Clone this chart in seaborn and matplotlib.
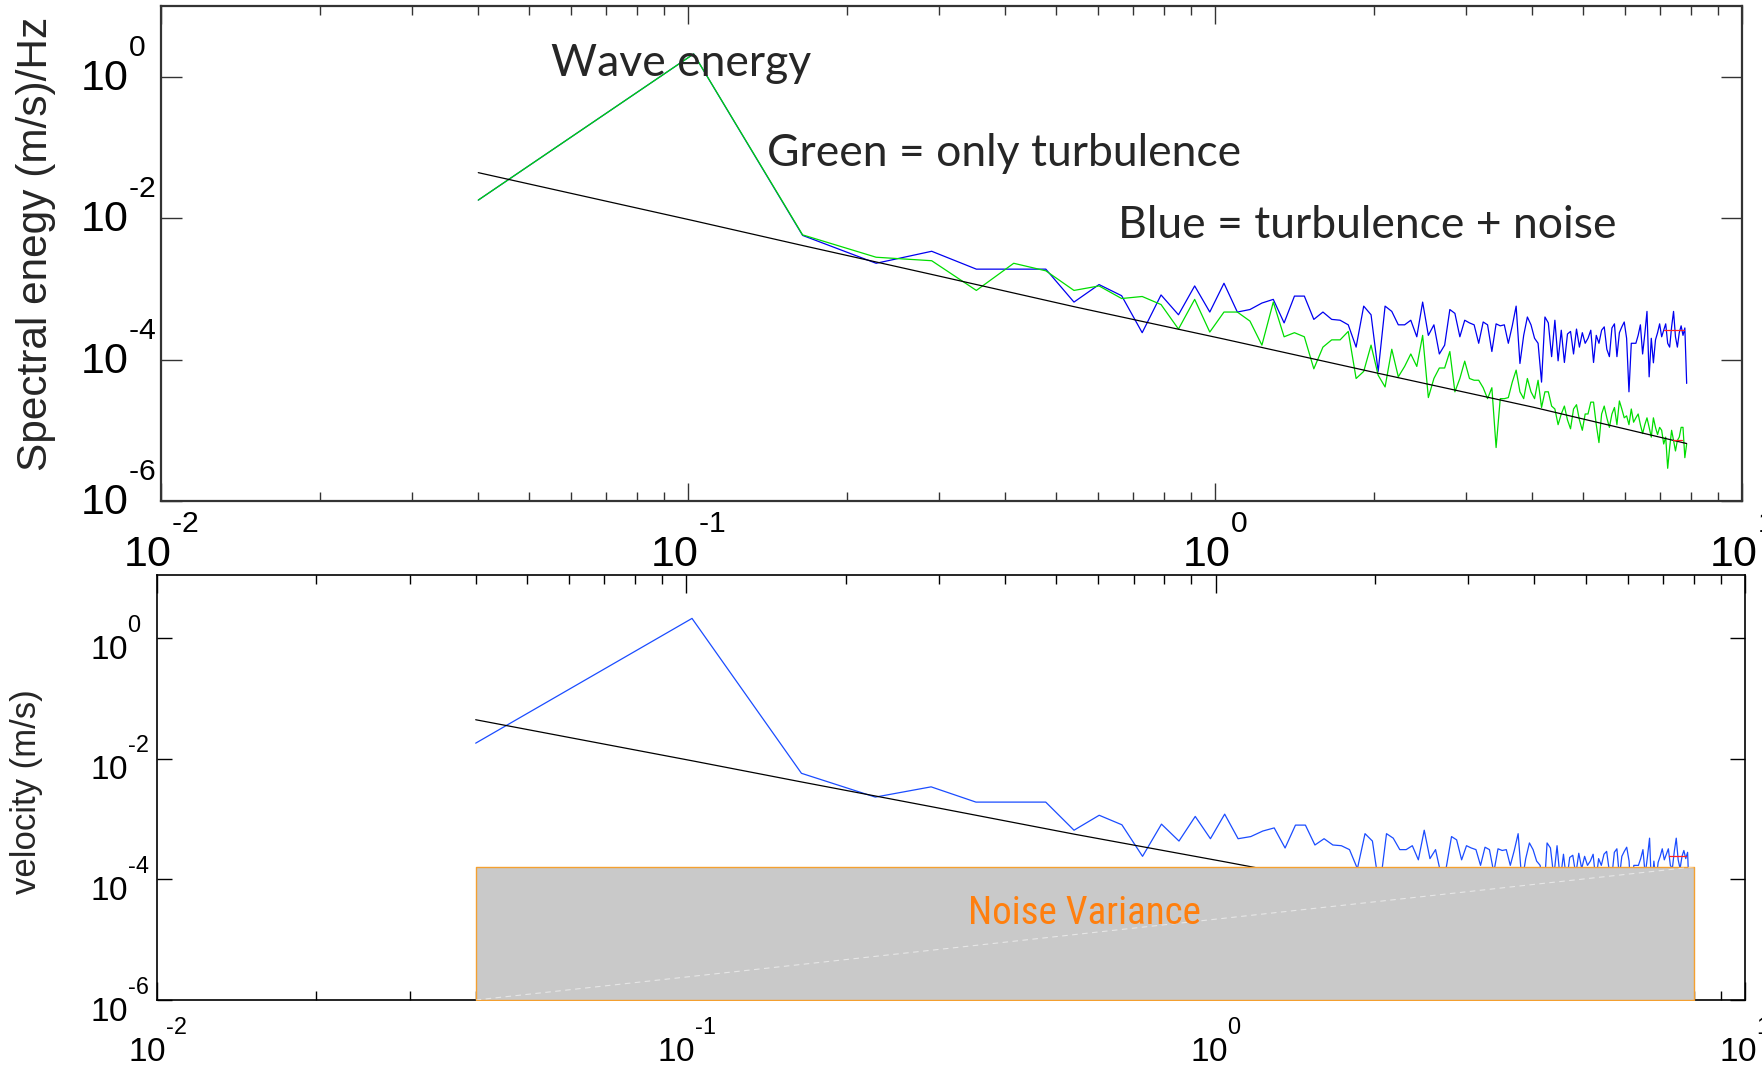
import os
import numpy as np
import matplotlib
matplotlib.use("Agg")
import matplotlib.pyplot as plt
import seaborn as sns
from matplotlib import font_manager
from matplotlib.font_manager import FontProperties
from matplotlib.transforms import ScaledTranslation
from matplotlib.ticker import FixedLocator, FuncFormatter, NullFormatter, NullLocator
from matplotlib.mathtext import MathTextParser

# ---------------- data ----------------
freq_start = 0.04      # Hz, first spectral bin
freq_step = 0.0625     # Hz, bin spacing
n_bins = 126
freq = freq_start + freq_step * np.arange(n_bins)

blue = [1.8e-2, 2.1, 5.7e-3, 2.3e-3, 3.4e-3, 1.9e-3, 1.9e-3, 1.9e-3, 6.5e-4, 1.15e-3,
        8.0e-4, 2.4e-4, 8.2e-4, 4.3e-4, 1.1e-3, 4.7e-4, 1.2e-3, 4.7e-4, 5.1e-4, 6.3e-4,
        7.1e-4, 3.3e-4, 7.9e-4, 7.9e-4, 3.7e-4, 4.7e-4, 3.7e-4, 3.6e-4, 3.1e-4, 1.5e-4,
        5.7e-4, 4.3e-4, 6.8e-5, 5.7e-4, 4.8e-4, 3.1e-4, 3.1e-4, 3.6e-4, 2.1e-4, 6.5e-4,
        2.2e-4, 3.1e-4, 1.2e-4, 1.6e-4, 5.1e-4, 4.5e-4, 2.1e-4, 3.6e-4, 3.3e-4, 3.1e-4,
        1.7e-4, 3.4e-4, 3.1e-4, 1.3e-4, 3.2e-4, 3.0e-4, 3.1e-4, 1.7e-4, 3.0e-4, 5.7e-4,
        8.8e-5, 2.2e-4, 4.0e-4, 3.1e-4, 2.0e-4, 1.7e-4, 4.8e-5, 4.0e-4, 3.3e-4, 1.1e-4,
        3.6e-4, 9.6e-5, 2.6e-4, 9.1e-5, 2.3e-4, 2.5e-4, 1.2e-4, 2.7e-4, 1.5e-4, 2.4e-4,
        1.7e-4, 2.0e-4, 2.6e-4, 9.1e-5, 2.2e-4, 1.7e-4, 2.6e-4, 2.9e-4, 1.4e-4, 1.1e-4,
        2.8e-4, 3.2e-4, 1.1e-4, 2.4e-4, 2.9e-4, 3.4e-4, 2.0e-4, 3.5e-5, 1.7e-4, 1.7e-4,
        1.7e-4, 2.2e-4, 3.1e-4, 1.2e-4, 2.3e-4, 4.8e-4, 5.7e-5, 2.0e-4, 9.0e-5, 1.9e-4,
        2.4e-4, 3.2e-4, 2.1e-4, 2.6e-4, 3.2e-4, 1.7e-4, 1.5e-4, 2.9e-4, 4.8e-4, 2.1e-4,
        1.5e-4, 2.4e-4, 3.0e-4, 2.2e-4, 2.8e-4, 4.6e-5]

green = [1.8e-2, 2.1, 5.8e-3, 2.8e-3, 2.5e-3, 9.5e-4, 2.3e-3, 1.8e-3, 9.5e-4, 1.1e-3,
         7.3e-4, 7.8e-4, 6.0e-4, 2.7e-4, 7.1e-4, 2.45e-4, 4.7e-4, 4.7e-4, 3.5e-4, 1.6e-4,
         6.5e-4, 2.1e-4, 2.4e-4, 2.1e-4, 7.4e-5, 1.5e-4, 1.9e-4, 1.9e-4, 2.5e-4, 5.4e-5,
         6.8e-5, 1.6e-4, 6.0e-5, 4.1e-5, 1.4e-4, 5.7e-5, 8.0e-5, 1.2e-4, 8.0e-5, 2.2e-4,
         2.9e-5, 5.4e-5, 7.6e-5, 7.6e-5, 1.3e-4, 3.5e-5, 5.4e-5, 9.5e-5, 5.4e-5, 5.1e-5,
         5.1e-5, 4.0e-5, 2.8e-5, 4.0e-5, 5.7e-6, 2.8e-5, 2.8e-5, 2.9e-5, 4.8e-5, 7.1e-5,
         3.5e-5, 2.8e-5, 5.4e-5, 3.5e-5, 2.8e-5, 5.1e-5, 2.1e-5, 3.5e-5, 3.5e-5, 2.2e-5,
         2.0e-5, 1.2e-5, 1.7e-5, 2.2e-5, 1.4e-5, 1.05e-5, 2.0e-5, 2.3e-5, 1.4e-5, 1.0e-5,
         1.7e-5, 1.7e-5, 2.5e-5, 2.5e-5, 1.2e-5, 6.7e-6, 1.7e-5, 2.2e-5, 1.5e-5, 1.1e-5,
         1.7e-5, 2.1e-5, 1.2e-5, 2.6e-5, 2.0e-5, 1.5e-5, 1.6e-5, 1.2e-5, 2.0e-5, 1.3e-5,
         1.5e-5, 1.7e-5, 1.2e-5, 9.0e-6, 1.2e-5, 1.5e-5, 1.1e-5, 8.0e-6, 1.5e-5, 1.1e-5,
         8.7e-6, 1.1e-5, 1.0e-5, 6.4e-6, 8.0e-6, 2.9e-6, 5.7e-6, 1.0e-5, 7.2e-6, 5.1e-6,
         7.2e-6, 8.0e-6, 1.1e-5, 1.1e-5, 4.1e-6, 6.4e-6]

# turbulence model (black line)
model_freq = [0.04, 0.1025, 0.165, 0.29, 0.54, 1.04, 2.04, 4.04, 7.85]
model_psd = [4.4e-2, 9.2e-3, 4.1e-3, 1.6e-3, 5.6e-4, 1.95e-4, 6.4e-5, 2.1e-5, 6.5e-6]

# mean levels (short red segments)
red_blue_freq = [7.1, 7.75]
red_blue_level = [2.6e-4, 2.6e-4]
red_green_freq = [7.4, 7.7]
red_green_level = [7.3e-6, 7.3e-6]
red_bottom_freq = [7.2, 7.75]
red_bottom_level = [2.45e-4, 2.45e-4]

# noise variance box (bottom panel)
noise_freq = [0.04, 8.0]
noise_floor = 1e-6
noise_variance = 1.6e-4

x_major = [1e-2, 1e-1, 1e0, 1e1]
x_minor = [m * d for d in (1e-2, 1e-1, 1e0) for m in range(2, 10)]
y_major = [1e-6, 1e-4, 1e-2, 1e0]

# ---------------- style ----------------
sns.set_style("white")
avail = {f.name for f in font_manager.fontManager.ttflist}
base_font = "Liberation Sans" if "Liberation Sans" in avail else "DejaVu Sans"
note_font = "Lato" if "Lato" in avail else base_font
plt.rcParams["font.family"] = [base_font, "DejaVu Sans"]
plt.rcParams["mathtext.fontset"] = "custom"
plt.rcParams["mathtext.rm"] = base_font
plt.rcParams["mathtext.it"] = base_font + ":italic"
plt.rcParams["mathtext.bf"] = base_font + ":bold"

# raise exponents so they sit just above the "10", as in the reference labels
try:
    from matplotlib import _mathtext
    _mathtext.FontConstantsBase.sup1 = 1.5
except Exception:
    pass

# short hyphen in the exponent (as in the reference) when mathtext supports \text
try:
    MathTextParser("agg").parse(r"$\mathregular{10^{\text{-}2}}$", dpi=100)
    neg_fmt = r"\text{-}%d"
except Exception:
    neg_fmt = r"-%d"

# a condensed face for the "Noise Variance" label, if one is installed
cond_path = None
font_files = [f.fname for f in font_manager.fontManager.ttflist]
for key in ("liberationsansnarrow-regular", "robotocondensed-regular",
            "notosans-condensed.", "notosanscondensed-regular",
            "opensans_condensed-regular", "opensanscondensed-regular",
            "dejavusanscondensed."):
    for fn in font_files:
        if key in os.path.basename(fn).lower():
            cond_path = fn
            break
    if cond_path:
        break


def pow_label(v, pos):
    e = int(round(np.log10(v)))
    exp = (neg_fmt % (-e)) if e < 0 else "%d" % e
    return r"$\mathregular{10^{%s}}$" % exp


fig = plt.figure(figsize=(17.62, 10.66), dpi=100)
fig.patch.set_facecolor("white")
ax1 = fig.add_axes([161 / 1762, 1 - 501 / 1066, 1581 / 1762, 495 / 1066])
ax2 = fig.add_axes([157 / 1762, 1 - 1000 / 1066, 1588 / 1762, 425 / 1066])

# ---------------- top panel ----------------
ax1.set_xscale("log")
ax1.set_yscale("log")
sns.lineplot(x=freq, y=blue, ax=ax1, color="#0000f0", linewidth=0.9,
             estimator=None, sort=False, legend=False)
sns.lineplot(x=freq, y=green, ax=ax1, color="#00dd00", linewidth=0.9,
             estimator=None, sort=False, legend=False)
sns.lineplot(x=model_freq, y=model_psd, ax=ax1, color="black", linewidth=0.9,
             estimator=None, sort=False, legend=False)
ax1.plot(red_blue_freq, red_blue_level, color="#ff2020", lw=0.9)
ax1.plot(red_green_freq, red_green_level, color="#ff2020", lw=0.9)
ax1.set_xlim(1e-2, 1e1)
ax1.set_ylim(1e-6, 1e1)

note_kw = dict(transform=ax1.transAxes, fontsize=32, family=[note_font, "DejaVu Sans"],
               va="baseline", ha="left")
ax1.text(0.2467, 0.859, "Wave energy", **note_kw)
ax1.text(0.3833, 0.677, "Green = only turbulence", **note_kw)
ax1.text(0.6053, 0.531, "Blue = turbulence + noise", **note_kw)

ax1.set_ylabel("Spectral enegy (m/s)/Hz", fontsize=30.5)
ax1.yaxis.set_label_coords(-0.0665, 0.519)

# ---------------- bottom panel ----------------
ax2.set_xscale("log")
ax2.set_yscale("log")
sns.lineplot(x=freq, y=blue, ax=ax2, color="#1a4cff", linewidth=0.9,
             estimator=None, sort=False, legend=False)
sns.lineplot(x=model_freq, y=model_psd, ax=ax2, color="black", linewidth=0.9,
             estimator=None, sort=False, legend=False)
ax2.fill_between(noise_freq, noise_floor, noise_variance, facecolor="#c9c9c9",
                 edgecolor="#f4a030", linewidth=1.0, zorder=3)
ax2.plot(noise_freq, [noise_floor, noise_variance], color="white", lw=0.8,
         ls=(0, (5, 4)), alpha=0.55, zorder=4)
ax2.plot(red_bottom_freq, red_bottom_level, color="#ff2020", lw=0.9, zorder=5)
ax2.set_xlim(1e-2, 1e1)
ax2.set_ylim(1e-6, 1.1e1)

if cond_path:
    nv_fp = FontProperties(fname=cond_path, size=31)
else:
    nv_fp = FontProperties(family=base_font, size=31)
nv = ax2.text(0.511, 0.179, "Noise Variance", transform=ax2.transAxes,
              fontproperties=nv_fp, color="#ff7f0e", va="baseline", ha="left", zorder=6)
ax2.set_ylabel("velocity (m/s)", fontsize=25)
ax2.yaxis.set_label_coords(-0.072, 0.49)

# ---------------- axes styling ----------------
for ax, lab_size, ypad, xpad, frame_col, frame_lw, ylen in (
        (ax1, 31, 58, 12, "#333333", 1.6, 15),
        (ax2, 24, 48, 14, "black", 1.2, 11)):
    ax.xaxis.set_major_locator(FixedLocator(x_major))
    ax.xaxis.set_minor_locator(FixedLocator(x_minor))
    ax.xaxis.set_major_formatter(FuncFormatter(pow_label))
    ax.xaxis.set_minor_formatter(NullFormatter())
    ax.yaxis.set_major_locator(FixedLocator(y_major))
    ax.yaxis.set_minor_locator(NullLocator())
    ax.yaxis.set_major_formatter(FuncFormatter(pow_label))
    ax.tick_params(axis="both", which="both", direction="in", top=True, right=True,
                   bottom=True, left=True, colors=frame_col, labelcolor="black")
    ax.tick_params(axis="x", which="major", length=13, width=1.0, labelsize=lab_size, pad=xpad)
    ax.tick_params(axis="x", which="minor", length=6.5, width=1.0)
    ax.tick_params(axis="y", which="major", length=ylen, width=1.0, labelsize=lab_size, pad=ypad)
    for sp in ax.spines.values():
        sp.set_visible(True)
        sp.set_color(frame_col)
        sp.set_linewidth(frame_lw)
    for lab in ax.get_yticklabels():
        lab.set_horizontalalignment("left")

shift_top = ScaledTranslation(0, -14 / 100, fig.dpi_scale_trans)
for lab in ax1.get_yticklabels():
    lab.set_verticalalignment("baseline")
    lab.set_transform(lab.get_transform() + shift_top)

# fit the "Noise Variance" label to its width in the reference (about 233 px)
fig.canvas.draw()
w = nv.get_window_extent(renderer=fig.canvas.get_renderer()).width
if w > 0:
    nv.set_fontsize(nv.get_fontsize() * 233.0 / w)

fig.savefig("out.png", dpi=100)
